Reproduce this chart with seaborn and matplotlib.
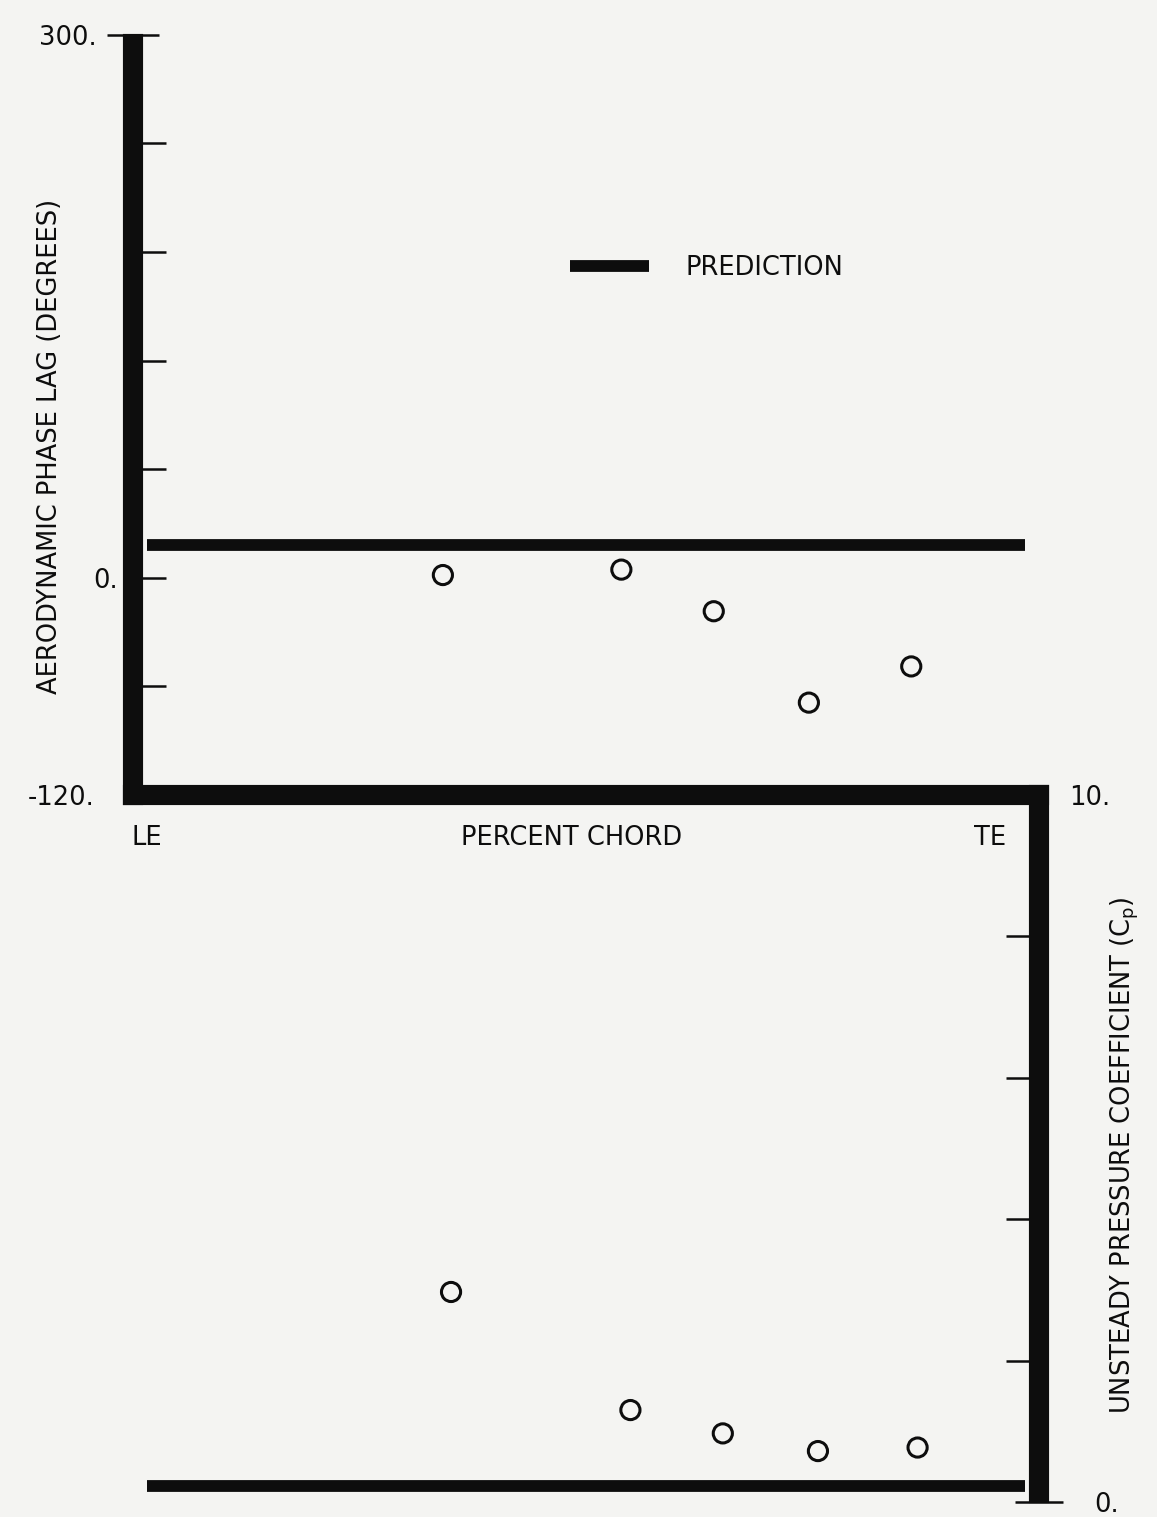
import numpy as np
import pandas as pd
import seaborn as sns
import matplotlib.pyplot as plt

chord_phase = [34.2, 53.9, 64.1, 74.6, 85.9]
phase_lag = [1.5, 4.5, -18.5, -69.0, -49.0]

chord_cp = [35.1, 54.9, 65.1, 75.6, 86.6]
cp = [2.97, 1.30, 0.97, 0.72, 0.77]

# prediction lines
pred_chord = [1.5, 98.5]
pred_phase = [18.0, 18.0]
pred_cp = [0.22, 0.22]

phase_ticks = [-120, -60, 0, 60, 120, 180, 240, 300]
phase_labels = ["-120.", "", "0.", "", "", "", "", "300."]
cp_ticks = [0, 2, 4, 6, 8, 10]
cp_labels = ["0.", "", "", "", "", "10."]

sns.set_style("white")
plt.rcParams["font.family"] = ["DejaVu Sans"]

paper = "#f4f4f2"
ink = "#0d0d0d"
fs = 18.5

fig = plt.figure(figsize=(11.57, 15.17), dpi=100, facecolor=paper)
ax1 = fig.add_axes([0.1150, 0.4760, 0.7830, 0.5010])
ax2 = fig.add_axes([0.1150, 0.0099, 0.7830, 0.4661])

df_pred1 = pd.DataFrame({"chord": pred_chord, "val": pred_phase})
df_pred2 = pd.DataFrame({"chord": pred_chord, "val": pred_cp})
df_pts1 = pd.DataFrame({"chord": chord_phase, "val": phase_lag})
df_pts2 = pd.DataFrame({"chord": chord_cp, "val": cp})

sns.lineplot(data=df_pred1, x="chord", y="val", ax=ax1, color=ink,
             linewidth=8.5, label="PREDICTION", legend=False,
             solid_capstyle="butt")
sns.scatterplot(data=df_pts1, x="chord", y="val", ax=ax1, marker="o",
                s=190, facecolor="none", edgecolor=ink, linewidth=2.2)

sns.lineplot(data=df_pred2, x="chord", y="val", ax=ax2, color=ink,
             linewidth=8.5, legend=False, solid_capstyle="butt")
sns.scatterplot(data=df_pts2, x="chord", y="val", ax=ax2, marker="o",
                s=190, facecolor="none", edgecolor=ink, linewidth=2.2)

for ax in (ax1, ax2):
    ax.set_facecolor("none")
    ax.set_xlim(0, 100)
    ax.set_xlabel("")
    ax.set_ylabel("")
    ax.set_xticks([])
    for sp in ax.spines.values():
        sp.set_visible(False)
        sp.set_linewidth(14.5)
        sp.set_color(ink)
        sp.set_capstyle("projecting")

# upper panel: phase lag
ax1.set_ylim(-120, 300)
ax1.spines["left"].set_visible(True)
ax1.spines["left"].set_bounds(-120, 295)
ax1.spines["bottom"].set_visible(True)
ax1.set_yticks(phase_ticks, labels=phase_labels)
ax1.tick_params(axis="y", direction="in", length=24, width=1.8, color=ink,
                labelsize=fs, labelcolor=ink, left=True, pad=28)
for t in ax1.yaxis.get_major_ticks():
    if t.get_loc() == 0:
        t.set_pad(11)
    if t.get_loc() == 300:
        t.set_pad(26)
        t.tick1line.set_marker("_")
        t.tick1line.set_markersize(38)

ax1.legend(loc="center left", bbox_to_anchor=(0.482, 0.693), frameon=False,
           borderpad=0, borderaxespad=0, handlelength=3.1, handletextpad=1.4,
           fontsize=fs, labelcolor=ink)

ax1.text(-0.0916, 0.458, "AERODYNAMIC PHASE LAG (DEGREES)", rotation=90,
         transform=ax1.transAxes, ha="center", va="center", fontsize=fs,
         color=ink)
ax1.text(0.0155, -0.0570, "LE", transform=ax1.transAxes, ha="center",
         va="center", fontsize=fs, color=ink)
ax1.text(0.4845, -0.0570, "PERCENT CHORD", transform=ax1.transAxes,
         ha="center", va="center", fontsize=fs, color=ink)
ax1.text(0.9460, -0.0570, "TE", transform=ax1.transAxes, ha="center",
         va="center", fontsize=fs, color=ink)

# lower panel: unsteady pressure coefficient
ax2.set_ylim(0, 10)
ax2.spines["right"].set_visible(True)
ax2.spines["right"].set_bounds(0.12, 10)
ax2.yaxis.tick_right()
ax2.set_yticks(cp_ticks, labels=cp_labels)
ax2.tick_params(axis="y", direction="in", length=24, width=1.8, color=ink,
                labelsize=fs, labelcolor=ink, right=True, left=False, pad=22)
for t in ax2.yaxis.get_major_ticks():
    if t.get_loc() == 0:
        t.set_pad(40)
        t.tick2line.set_marker("_")
        t.tick2line.set_markersize(34)

ax2.text(1.095, 0.490, r"UNSTEADY PRESSURE COEFFICIENT (C$_\mathregular{p}$)",
         rotation=90, transform=ax2.transAxes, ha="center", va="center",
         fontsize=fs, color=ink)

fig.savefig("out.png", dpi=100, facecolor=paper)
